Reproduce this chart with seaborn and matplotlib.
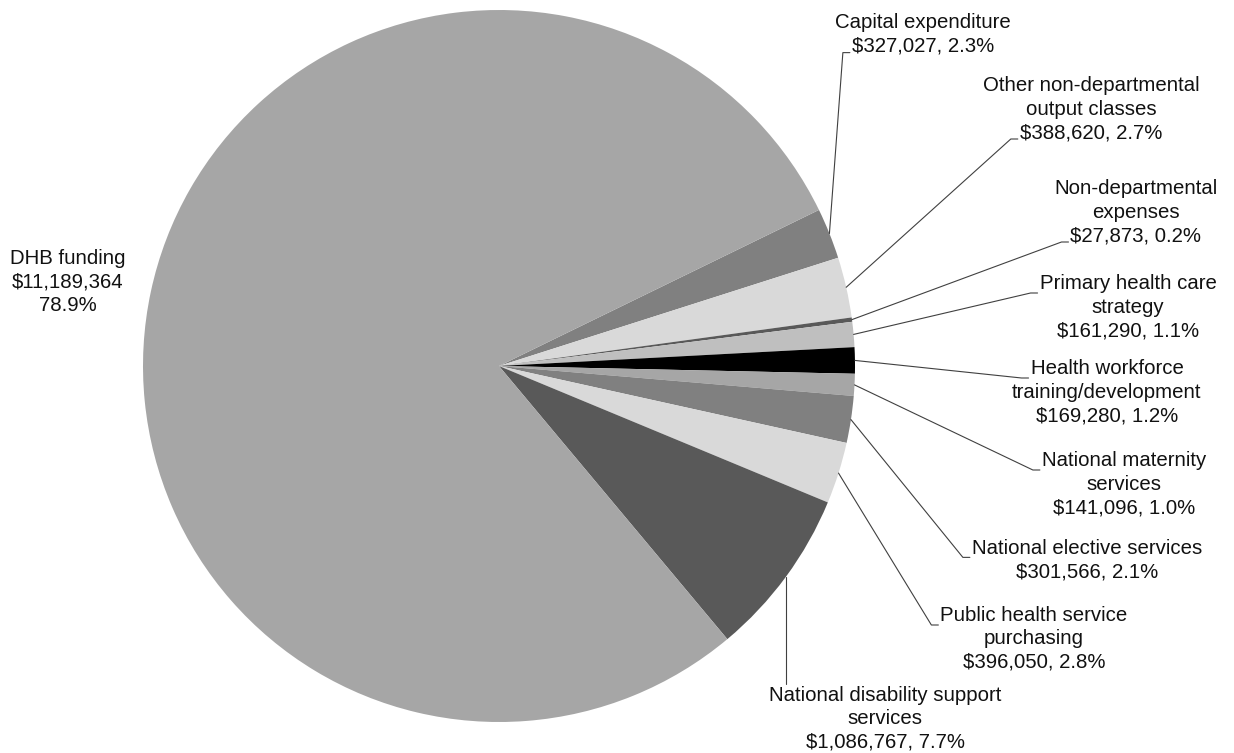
import matplotlib
matplotlib.use("Agg")
import matplotlib.pyplot as plt
import numpy as np
import seaborn as sns
from matplotlib.font_manager import FontProperties

# ---- data ----
names = [
    "Capital expenditure",
    "Other non-departmental\noutput classes",
    "Non-departmental\nexpenses",
    "Primary health care\nstrategy",
    "Health workforce\ntraining/development",
    "National maternity\nservices",
    "National elective services",
    "Public health service\npurchasing",
    "National disability support\nservices",
    "DHB funding",
]
values = [327027, 388620, 27873, 161290, 169280, 141096, 301566, 396050, 1086767, 11189364]
colors = ["#808080", "#d9d9d9", "#595959", "#bfbfbf", "#000000",
          "#a6a6a6", "#808080", "#d9d9d9", "#595959", "#a6a6a6"]

# ---- layout (pixel positions of label centres, attach mode) ----
label_pos = [(923, 34), (1091, 109), (1136, 212), (1128, 307), (1107, 392),
             (1124, 484), (1087, 560), (1034, 639), (885, 719), (68, 282)]
attach = ["last", "last", "last", "first", "first", "first", "first", "first", "top", None]

W, H = 1234, 753
sns.set_theme(style="white")
plt.rcParams["font.family"] = ["Liberation Sans", "DejaVu Sans"]

fig = plt.figure(figsize=(W / 100, H / 100), dpi=100)
ax = fig.add_axes([0, 0, 1, 1])
cx, cy, R = 499, H - 366, 356
wedges, _ = ax.pie(values, colors=colors, startangle=26, counterclock=False,
                   radius=R, center=(cx, cy), wedgeprops=dict(linewidth=0))
ax.set_xlim(0, W)
ax.set_ylim(0, H)
ax.set_aspect("equal")
ax.axis("off")

total = sum(values)
fs = 14.7
txtcol = "#111111"
fp = FontProperties(family="Liberation Sans", size=fs)
fig.canvas.draw()
renderer = fig.canvas.get_renderer()

for i, (name, v) in enumerate(zip(names, values)):
    pct = v / total * 100
    if attach[i] is None:
        label = f"{name}\n${v:,}\n{pct:.1f}%"
    else:
        label = f"{name}\n${v:,}, {pct:.1f}%"
    px, py = label_pos[i]
    t = ax.text(px, H - py, label, ha="center", va="center", multialignment="center",
                fontsize=fs, color=txtcol, linespacing=1.3)
    if attach[i] is None:
        continue
    bb = t.get_window_extent(renderer=renderer)
    lines = label.split("\n")
    n = len(lines)
    w = wedges[i]
    mid = np.deg2rad((w.theta1 + w.theta2) / 2)
    sx, sy = cx + R * np.cos(mid), cy + R * np.sin(mid)
    if attach[i] == "top":
        ax.plot([sx, sx], [sy, bb.y1 + 2], color="#404040", lw=0.8)
        continue
    k = 0 if attach[i] == "first" else n - 1
    lw_, _, _ = renderer.get_text_width_height_descent(lines[k], fp, ismath=False)
    left = px - lw_ / 2
    ly = bb.y1 - (k + 0.5) * bb.height / n - 8
    ax.plot([sx, left - 9, left - 2], [sy, ly, ly], color="#404040", lw=0.8)

fig.savefig("out.png", dpi=100)
